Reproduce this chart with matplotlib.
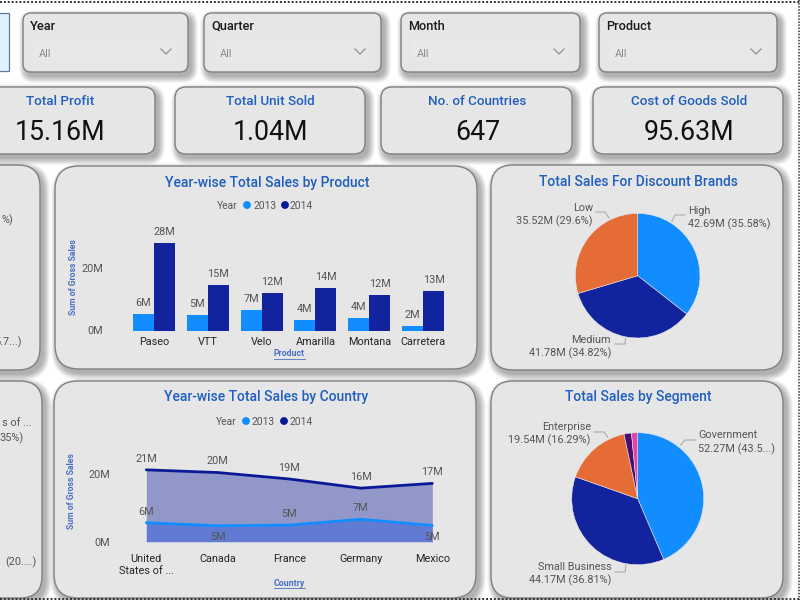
import matplotlib
matplotlib.use("Agg")
import matplotlib.pyplot as plt
from matplotlib.patches import FancyBboxPatch, Rectangle

plt.rcParams['font.family'] = ['Roboto', 'DejaVu Sans']

# ---------- data ----------
years = ['2013', '2014']
products = ['Paseo', 'VTT', 'Velo', 'Amarilla', 'Montana', 'Carretera']
product_2013 = [5.3, 5.1, 6.6, 3.5, 4.0, 1.5]
product_2014 = [28.1, 14.7, 12.0, 13.7, 11.4, 12.6]
product_labels_2013 = ['6M', '5M', '7M', '4M', '4M', '2M']
product_labels_2014 = ['28M', '15M', '12M', '14M', '12M', '13M']

countries = ['United\nStates of ...', 'Canada', 'France', 'Germany', 'Mexico']
country_2013 = [5.6, 4.7, 4.9, 6.6, 4.8]
country_2014 = [21.2, 20.4, 18.5, 15.8, 17.2]
country_labels_2013 = ['6M', '5M', '5M', '7M', '5M']
country_labels_2014 = ['21M', '20M', '19M', '16M', '17M']
country_label_side_2013 = [1, -1, 1, 1, -1]

discount_bands = ['High', 'Medium', 'Low']
discount_values = [42.69, 41.78, 35.52]
segment_names = ['Government', 'Small Business', 'Enterprise', 'Midmarket', 'Channel Partners']
segment_values = [52.27, 44.17, 19.54, 2.2, 1.8]

slicers = ['Year', 'Quarter', 'Month', 'Product']
kpi_titles = ['Total Profit', 'Total Unit Sold', 'No. of Countries', 'Cost of Goods Sold']
kpi_values = ['15.16M', '1.04M', '647', '95.63M']

# ---------- style ----------
BLUE, NAVY, ORANGE, PURPLE, PINK = '#118DFF', '#12239E', '#E66C37', '#4A0F6E', '#E044A7'
CARD, EDGE, TITLE, GREY, DARK = '#E6E6E6', '#808080', '#1F5FBF', '#555555', '#252423'
AXT = '#4A6FC4'

fig = plt.figure(figsize=(8, 6), dpi=100, facecolor='white')
bg = fig.add_axes([0, 0, 1, 1], zorder=0)
bg.set_xlim(0, 800); bg.set_ylim(600, 0); bg.axis('off')


def pix_axes(x0, y0, x1, y1):
    a = fig.add_axes([x0 / 800, 1 - y1 / 600, (x1 - x0) / 800, (y1 - y0) / 600], zorder=2)
    a.patch.set_alpha(0)
    return a


def card(x0, y0, x1, y1, r):
    for g in range(14, 0, -1):
        bg.add_patch(FancyBboxPatch((x0 + 3 - g / 2, y0 + 4 - g / 2), x1 - x0 + g, y1 - y0 + g,
                                    boxstyle=f'round,pad=0,rounding_size={r + g / 2}', fc='black', ec='none',
                                    alpha=0.024, zorder=1))
    bg.add_patch(FancyBboxPatch((x0, y0), x1 - x0, y1 - y0, boxstyle=f'round,pad=0,rounding_size={r}',
                                fc=CARD, ec=EDGE, lw=1.0, zorder=2))


def txt(x, y, s, size=7.8, color=GREY, ha='left', weight='normal'):
    bg.text(x, y + 2, s, fontsize=size, color=color, ha=ha, va='center', weight=weight, zorder=5)


def leader(xs, ys):
    bg.plot(xs, ys, color='#ABABAB', lw=0.8, zorder=5)


# cards
bg.add_patch(Rectangle((-3, 13), 12, 58, fc='#E1F1FD', ec='#5C7C9C', lw=0.9, zorder=2))
slicer_boxes = [(23, 188, 34, 177, 39, 166), (204, 381, 214, 370, 220, 360),
                (401, 580, 412, 570, 417, 559), (599, 777, 609, 767, 615, 756)]
for name, (x0, x1, bx0, bx1, ax_, cx) in zip(slicers, slicer_boxes):
    card(x0, 13, x1, 72, 8)
    bg.add_patch(Rectangle((bx0, 40), bx1 - bx0, 22, fc='#E8E8E8', ec='none', zorder=3))
    txt(x0 + 7, 24, name, size=9.2, color='#1A1A1A', weight='medium')
    txt(ax_, 52, 'All', size=7.8, color='#8A8A8A')
    bg.plot([cx - 5, cx, cx + 5], [49, 54, 49], color='#8F8F8F', lw=0.9, zorder=5)

kpi_boxes = [(-12, 155, 60.5), (175, 365, 270.5), (381, 572, 477.5), (593, 783, 689)]
for t, v, (x0, x1, cx) in zip(kpi_titles, kpi_values, kpi_boxes):
    card(x0, 87, x1, 154, 11)
    txt(cx, 99.5, t, size=9.7, color=TITLE, ha='center', weight='medium')
    txt(cx, 130.5, v, size=19.3, color='#111111', ha='center')

card(-60, 165, 40, 370, 22)
card(55, 166, 477, 369, 24)
card(491, 165, 783, 370, 22)
card(-60, 381, 42, 598, 22)
card(54, 381, 476, 598, 24)
card(491, 381, 783, 598, 22)

# dotted page frame
bg.plot([0, 800], [1.5, 1.5], color='#333333', lw=1.4, ls=(0, (1, 1)), zorder=6)
bg.plot([0, 800], [599, 599], color='#333333', lw=1.4, ls=(0, (1, 1)), zorder=6)
bg.plot([799, 799], [0, 600], color='#333333', lw=1.1, ls=(0, (1, 1)), zorder=6)

# clipped labels of the cut-off left cards
txt(13, 218, '%)', ha='right')
txt(22, 340, '5.7...)', ha='right')
txt(32, 421, 's of ...', ha='right')
txt(24, 436, '35%)', ha='right')
txt(36, 560, '(20....)', ha='right')

# titles
txt(267, 180.5, 'Year-wise Total Sales by Product', size=10, color=TITLE, ha='center', weight='medium')
txt(266, 395.5, 'Year-wise Total Sales by Country', size=10, color=TITLE, ha='center', weight='medium')
txt(638, 179.5, 'Total Sales For Discount Brands', size=10, color=TITLE, ha='center', weight='medium')
txt(638, 395.5, 'Total Sales by Segment', size=10, color=TITLE, ha='center', weight='medium')


def legend(xstart, y):
    txt(xstart, y - 1, 'Year', size=7.4)
    bg.scatter([xstart + 30, xstart + 68], [y, y], s=32, c=[BLUE, '#0A1A96'], zorder=5, linewidths=0)
    txt(xstart + 36, y - 1, years[0], size=7.4)
    txt(xstart + 73, y - 1, years[1], size=7.4)


legend(217, 205)
legend(216, 421)


def underlined(x, y, s, half):
    txt(x, y - 2, s, size=6.3, color=AXT, ha='center', weight='bold')
    bg.plot([x - half, x + half], [y + 4.5, y + 4.5], color=AXT, lw=0.6, zorder=5)


# ---------- bars ----------
ax = pix_axes(127, 235, 450, 330.5)
xs = range(len(products))
w = 0.39
b13 = ax.bar([i - w / 2 for i in xs], product_2013, w, color=BLUE)
b14 = ax.bar([i + w / 2 for i in xs], product_2014, w, color=NAVY)
for bars, labs in ((b13, product_labels_2013), (b14, product_labels_2014)):
    for r, s in zip(bars, labs):
        ax.annotate(s, (r.get_x() + r.get_width() / 2, r.get_height()), xytext=(0, 7.8), textcoords='offset points',
                    ha='center', va='center', fontsize=7.8, color=GREY, annotation_clip=False)
ax.set_xlim(-0.5, 5.5); ax.set_ylim(0, 30.65)
ax.set_xticks(list(xs), products, fontsize=7.8, color=DARK)
ax.set_yticks([0, 20], ['0M', '20M'], fontsize=7.8, color=GREY)
ax.tick_params(length=0, axis='x', pad=4.8)
ax.tick_params(length=0, axis='y', pad=17)
for s in ax.spines.values():
    s.set_visible(False)
bg.text(73, 277, 'Sum of Gross Sales', fontsize=6.2, color=AXT, rotation=90, ha='center', va='center', weight='bold', zorder=5)
underlined(289, 354, 'Product', 15.5)

# ---------- areas ----------
ax = pix_axes(146.3, 460, 432.3, 541.7)
xc = range(len(countries))
ax.fill_between(xc, country_2014, color='#12239E', alpha=0.40, lw=0)
ax.fill_between(xc, country_2013, color='#1A4FE0', alpha=0.40, lw=0)
ax.plot(xc, country_2014, color='#0A1A96', lw=2, clip_on=False, solid_capstyle='round')
ax.plot(xc, country_2013, color=BLUE, lw=2, clip_on=False, solid_capstyle='round')
for i, (v, s) in enumerate(zip(country_2014, country_labels_2014)):
    ax.annotate(s, (i, v), xytext=(0, 8.0), textcoords='offset points', ha='center', va='center',
                fontsize=7.8, color=GREY, annotation_clip=False)
for i, (v, s, d) in enumerate(zip(country_2013, country_labels_2013, country_label_side_2013)):
    ax.annotate(s, (i, v), xytext=(0, 8.0 * d), textcoords='offset points', ha='center', va='center',
                fontsize=7.8, color=GREY, annotation_clip=False)
ax.set_xlim(0, 4); ax.set_ylim(0, 24.1)
ax.set_xticks(list(xc), countries, fontsize=7.8, color=DARK, linespacing=1.35)
ax.set_yticks([0, 20], ['0M', '20M'], fontsize=7.8, color=GREY)
ax.tick_params(length=0, axis='x', pad=8.5)
ax.tick_params(length=0, axis='y', pad=26)
for s in ax.spines.values():
    s.set_visible(False)
bg.text(71, 491, 'Sum of Gross Sales', fontsize=6.2, color=AXT, rotation=90, ha='center', va='center', weight='bold', zorder=5)
underlined(289, 583, 'Country', 15.5)


# ---------- pies ----------
def pie(cx, cy, r, vals, cols):
    a = pix_axes(cx - r, cy - r, cx + r, cy + r)
    a.pie(vals, colors=cols, startangle=90, counterclock=False, radius=1, normalize=True,
          wedgeprops=dict(lw=0.4, edgecolor='#E6E6E6'))
    a.set_xlim(-1, 1); a.set_ylim(-1, 1)


pie(637.7, 275.7, 62.3, discount_values, [BLUE, NAVY, ORANGE])
pie(637.7, 498.7, 66, segment_values, [BLUE, NAVY, ORANGE, PURPLE, PINK])

txt(688, 209, 'High'); txt(688, 222, '42.69M (35.58%)')
txt(593, 206, 'Low', ha='right'); txt(592, 219, '35.52M (29.6%)', ha='right')
txt(611, 338, 'Medium', ha='right'); txt(611, 351, '41.78M (34.82%)', ha='right')
leader([672, 675, 685], [221, 215, 215])
leader([609, 605, 596], [218, 212, 212])
leader([625.7, 625, 615], [338, 344, 344])

txt(698, 433, 'Government'); txt(698, 447, '52.27M (43.5...)')
txt(591, 425, 'Enterprise', ha='right'); txt(590, 438, '19.54M (16.29%)', ha='right')
txt(612, 565, 'Small Business', ha='right'); txt(611, 578, '44.17M (36.81%)', ha='right')
leader([680.7, 685, 695], [445, 440, 440])
leader([607.7, 604, 594], [437, 432, 432])
leader([626, 625, 615], [565, 572, 572])

fig.savefig('out.png', dpi=100)
